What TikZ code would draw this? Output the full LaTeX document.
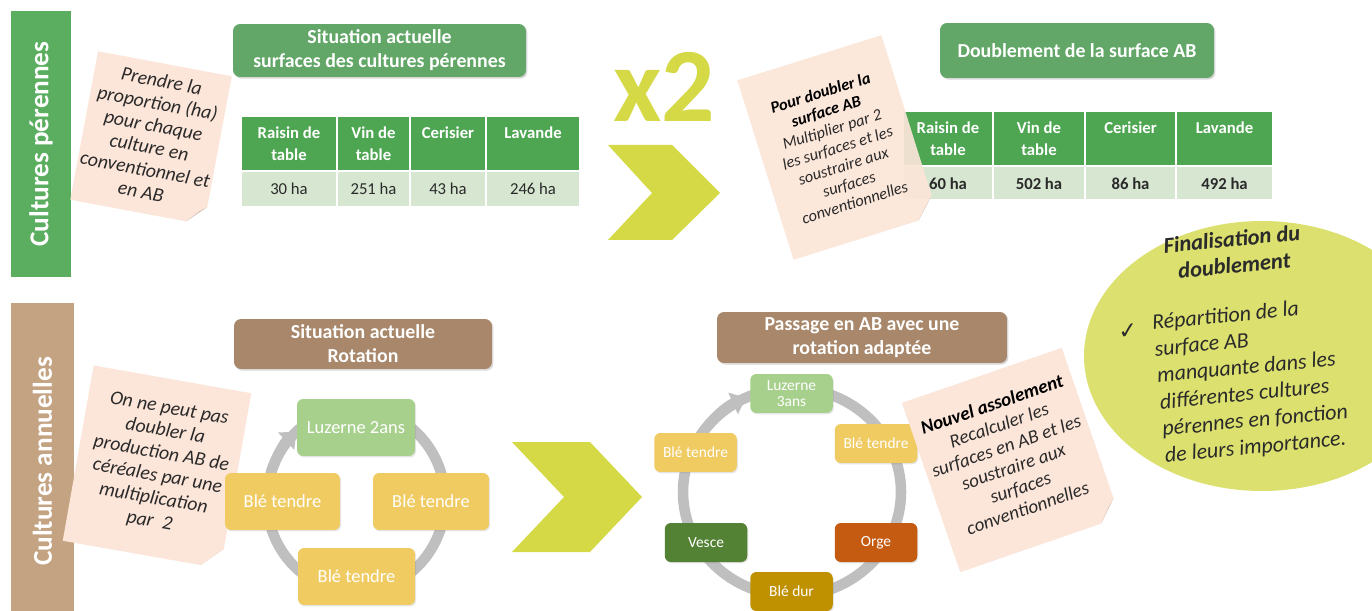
\documentclass[tikz,border=0pt]{standalone}
\usepackage{fontspec}
\setmainfont{Carlito}
\newfontfamily\symfont{DejaVu Sans}
\usetikzlibrary{shadows,arrows.meta}
\definecolor{barGreen}{HTML}{5BAE60}
\definecolor{hdrGreen}{HTML}{62A767}
\definecolor{tblGreen}{HTML}{4EA652}
\definecolor{tblPale}{HTML}{D6E6D1}
\definecolor{barBrown}{HTML}{C4A383}
\definecolor{hdrBrown}{HTML}{A8876B}
\definecolor{paperC}{HTML}{FCE5D9}
\definecolor{foldC}{HTML}{D8C6BA}
\definecolor{lime}{HTML}{D4D945}
\definecolor{limeLight}{HTML}{DCE06E}
\definecolor{luz}{HTML}{A8D08D}
\definecolor{ble}{HTML}{F0CB62}
\definecolor{vesce}{HTML}{548235}
\definecolor{orge}{HTML}{C55A11}
\definecolor{bledur}{HTML}{BF9000}
\definecolor{ringC}{HTML}{BFBFBF}
\definecolor{ink}{HTML}{2A2A2A}
\tikzset{
  vbar/.style={rotate=90, text=white, inner sep=0pt, font=\fontsize{15.5}{16}\selectfont\bfseries},
  hdr/.style={rounded corners=4pt, text=white, align=center, inner sep=0pt,
    font=\fontsize{11.3}{13.6}\selectfont\bfseries,
    drop shadow={opacity=0.3, shadow xshift=0.8pt, shadow yshift=-0.9pt}},
  cellH/.style={fill=tblGreen, draw=white, line width=1pt, text=white, align=center, inner sep=0pt,
    font=\fontsize{9.5}{12.5}\selectfont\bfseries, minimum height=1.1cm},
  cellV/.style={fill=tblPale, draw=white, line width=1pt, text=ink, inner sep=0pt,
    font=\fontsize{9.5}{11}\selectfont},
  paperfill/.style={fill=paperC},
  foldfill/.style={fill=foldC},
  notetxt/.style={text=ink, align=center, inner sep=0pt},
  ringline/.style={draw=ringC, line width=6pt},
  ringtip/.style={-{Triangle[length=8pt,width=13pt]}},
  cbox/.style={rounded corners=3.5pt, text=white, align=center, inner sep=0pt,
    drop shadow={opacity=0.2, shadow xshift=0.6pt, shadow yshift=-0.8pt}},
  c1box/.style={cbox, font=\fontsize{10.5}{12}\selectfont, minimum height=1.14cm},
  c2box/.style={cbox, font=\fontsize{8.8}{9.4}\selectfont, minimum width=1.65cm, minimum height=0.78cm},
}
\begin{document}
\begin{tikzpicture}[x=0.02cm,y=-0.02cm]
\useasboundingbox (0,0) rectangle (1372,611);
\clip (0,0) rectangle (1372,611);
\fill[white] (0,0) rectangle (1372,611);

% side bars
\node[vbar, fill=barGreen, minimum width=5.32cm, minimum height=1.2cm] (barP) at (41,144) {Cultures pérennes};
\node[vbar, fill=barBrown, minimum width=6.34cm, minimum height=1.26cm] (barA) at (42.5,461.5) {Cultures annuelles};

% headers
\node[hdr, fill=hdrGreen, minimum width=5.86cm, minimum height=1.06cm] (h1) at (379.5,50.5) {Situation actuelle\\surfaces des cultures pérennes};
\node[hdr, fill=hdrGreen, minimum width=5.48cm, minimum height=1.1cm] (h2) at (1077,50.5) {Doublement de la surface AB};
\node[hdr, fill=hdrBrown, minimum width=5.16cm, minimum height=1.0cm] (h3) at (363,344) {Situation actuelle\\Rotation};
\node[hdr, fill=hdrBrown, minimum width=5.8cm, minimum height=1.02cm] (h4) at (862,337.5) {Passage en AB avec une\\rotation adaptée};

% table 1
\node[cellH, minimum width=1.92cm] (t1a) at (289,143.5) {Raisin de\\table};
\node[cellH, minimum width=1.46cm] (t1b) at (373.5,143.5) {Vin de\\table};
\node[cellH, minimum width=1.52cm] (t1c) at (448,143.5) {Cerisier\\\mbox{}};
\node[cellH, minimum width=1.88cm] (t1d) at (533,143.5) {Lavande\\\mbox{}};
\node[cellV, minimum width=1.92cm, minimum height=0.72cm] (v1a) at (289,189) {30 ha};
\node[cellV, minimum width=1.46cm, minimum height=0.72cm] (v1b) at (373.5,189) {251 ha};
\node[cellV, minimum width=1.52cm, minimum height=0.72cm] (v1c) at (448,189) {43 ha};
\node[cellV, minimum width=1.88cm, minimum height=0.72cm] (v1d) at (533,189) {246 ha};

% table 2
\node[cellH, minimum width=1.80cm] (t2a) at (948,138.75) {Raisin de\\table};
\node[cellH, minimum width=1.84cm] (t2b) at (1039,138.75) {Vin de\\table};
\node[cellH, minimum width=1.82cm] (t2c) at (1130.5,138.75) {Cerisier\\\mbox{}};
\node[cellH, minimum width=1.94cm] (t2d) at (1224.5,138.75) {Lavande\\\mbox{}};
\node[cellV, minimum width=1.80cm, minimum height=0.67cm, font=\fontsize{9.5}{11}\selectfont\bfseries] (v2a) at (948,183.25) {60 ha};
\node[cellV, minimum width=1.84cm, minimum height=0.67cm, font=\fontsize{9.5}{11}\selectfont\bfseries] (v2b) at (1039,183.25) {502 ha};
\node[cellV, minimum width=1.82cm, minimum height=0.67cm, font=\fontsize{9.5}{11}\selectfont\bfseries] (v2c) at (1130.5,183.25) {86 ha};
\node[cellV, minimum width=1.94cm, minimum height=0.67cm, font=\fontsize{9.5}{11}\selectfont\bfseries] (v2d) at (1224.5,183.25) {492 ha};

% chevrons and x2
\fill[lime] (608,145) -- (672,145) -- (720,193) -- (672,240) -- (608,240) -- (652,193) -- cycle;
\fill[lime] (512,442) -- (590,442) -- (642,497) -- (590,552) -- (512,552) -- (564,497) -- cycle;
\node[anchor=base, inner sep=0pt, text=lime, font=\fontsize{60}{60}\selectfont\bfseries] (x2) at (664,122) {x2};

% note 1
\begin{scope}[shift={(151,138)}, rotate=-10.6]
  \fill[paperfill] (-68,-75.5) -- (68,-75.5) -- (68,57.5) -- (50,75.5) -- (-68,75.5) -- cycle;
  \fill[foldfill] (68,57.5) -- (50,75.5) -- (61,63) -- cycle;
  \node[notetxt, rotate=-10.6, font=\fontsize{11.2}{12.8}\selectfont\itshape] (n1) at (0,-2)
    {Prendre la\\proportion (ha)\\pour chaque\\culture en\\conventionnel et\\en AB};
\end{scope}

% note 2
\begin{scope}[shift={(837.5,147.5)}, rotate=17.4]
  \fill[paperfill, opacity=0.92] (-75.5,-94) -- (75.5,-94) -- (75.5,74) -- (55.5,94) -- (-75.5,94) -- cycle;
  \fill[foldfill] (75.5,74) -- (55.5,94) -- (68,81) -- cycle;
  \node[notetxt, rotate=17.4, font=\fontsize{9.3}{10.9}\selectfont\itshape] (n2) at (0,0)
    {\textbf{\color{black}Pour doubler la}\\\textbf{\color{black}surface AB}\\Multiplier par 2\\les surfaces et les\\soustraire aux\\surfaces\\conventionnelles};
\end{scope}

% big circle
\fill[limeLight] (1262,356) ellipse [x radius=178, y radius=135];
\node[rotate=5.5, text=ink, align=center, inner sep=0pt, font=\fontsize{12.8}{15}\selectfont\bfseries\itshape] (fin) at (1233,252) {Finalisation du\\doublement};
\node[rotate=5.5, text=ink, inner sep=0pt, font=\symfont\fontsize{13}{13}\selectfont] (chk) at (1128,331) {✓};
\node[rotate=5.5, anchor=north west, text=ink, align=left, inner sep=0pt, font=\fontsize{12.5}{15.2}\selectfont\itshape] (rep) at (1151,314)
  {Répartition de la\\surface AB\\manquante dans les\\différentes cultures\\pérennes en fonction\\de leurs importance.};

% note 3
\begin{scope}[shift={(157,467)}, rotate=-10]
  \fill[paperfill] (-80,-89) -- (80,-89) -- (80,69) -- (60,89) -- (-80,89) -- cycle;
  \fill[foldfill] (80,69) -- (60,89) -- (73,76) -- cycle;
  \node[notetxt, rotate=-10, font=\fontsize{11.2}{13}\selectfont\itshape] (n3) at (2,-2)
    {On ne peut pas\\doubler la\\production AB de\\céréales par une\\multiplication\\par~~2};
\end{scope}

% cycle 1
\coordinate (c1) at (356,500);
\draw[ringline] (c1) ellipse [x radius=89, y radius=92];
\draw[ringline, ringtip] (c1) ++(198:89 and 92) arc [start angle=198, end angle=228, x radius=89, y radius=92];
\node[c1box, fill=luz, minimum width=2.36cm] (luz1) at (356,427.5) {Luzerne 2ans};
\node[c1box, fill=ble, minimum width=2.30cm] (ble1) at (282.5,501.5) {Blé tendre};
\node[c1box, fill=ble, minimum width=2.32cm] (ble2) at (431,501.5) {Blé tendre};
\node[c1box, fill=ble, minimum width=2.34cm] (ble3) at (356.5,576.5) {Blé tendre};

% cycle 2
\coordinate (c2) at (792,492);
\draw[ringline] (c2) ellipse [x radius=109, y radius=104];
\draw[ringline, ringtip] (c2) ++(210:109 and 104) arc [start angle=210, end angle=245, x radius=109, y radius=104];
\node[c2box, fill=luz] (luz2) at (791.5,393.5) {Luzerne\\3ans};
\node[c2box, fill=ble] (ble4) at (876,443.5) {Blé tendre};
\node[c2box, fill=ble] (ble5) at (695.5,452.5) {Blé tendre};
\node[c2box, fill=vesce] (ves) at (706,542.5) {Vesce};
\node[c2box, fill=orge] (org) at (876,542.5) {Orge};
\node[c2box, fill=bledur] (bdur) at (791.5,591.5) {Blé dur};

% note 4
\begin{scope}[shift={(1011,460)}, rotate=19]
  \fill[paperfill] (-84.5,-89.5) -- (84.5,-89.5) -- (84.5,69.5) -- (64.5,89.5) -- (-84.5,89.5) -- cycle;
  \fill[foldfill] (84.5,69.5) -- (64.5,89.5) -- (77,76) -- cycle;
  \node[notetxt, rotate=19, font=\fontsize{10.8}{12.5}\selectfont\itshape] (n4) at (0,-4)
    {\textbf{\color{black}Nouvel assolement}\\Recalculer les\\surfaces en AB et les\\soustraire aux\\surfaces\\conventionnelles};
\end{scope}
\end{tikzpicture}
\end{document}
